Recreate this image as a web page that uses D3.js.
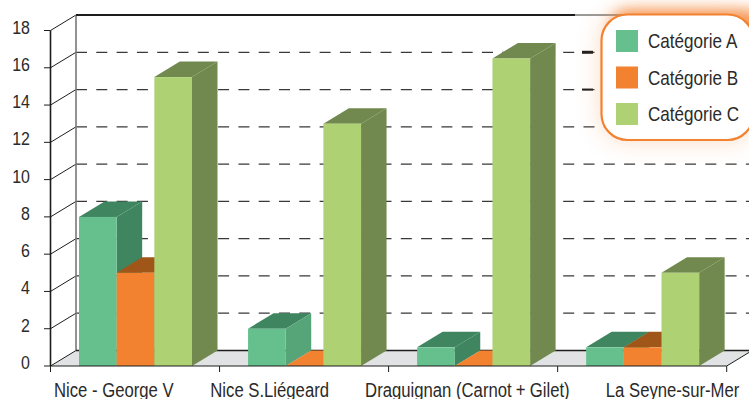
<!DOCTYPE html>
<html>
<head>
<meta charset="utf-8">
<script src="https://cdn.jsdelivr.net/npm/d3@7/dist/d3.min.js"></script>
<style>
html,body{margin:0;padding:0;background:#fff}
svg{display:block}
text{font-family:"Liberation Sans",sans-serif;fill:#2b2a29}
</style>
</head>
<body>
<svg id="chart" width="749" height="399"></svg>
<script>
const categories = ["Nice - George V", "Nice S.Liégeard", "Draguignan (Carnot+Gilet)", "La Seyne-sur-Mer"];
const seriesNames = ["Catégorie A", "Catégorie B", "Catégorie C"];
const serieA = [8, 2, 1, 1];
const serieB = [5, 0, 0, 1];
const serieC = [15.5, 13, 16.5, 5];
const yTicks = [0, 2, 4, 6, 8, 10, 12, 14, 16, 18];

const palette = [
  {face: "#65c08d", top: "#3f8560", side: "#3f8560"},
  {face: "#f38230", top: "#a05618", side: "#a05618"},
  {face: "#aed174", top: "#71894e", side: "#71894e"}
];

const W = 749, H = 399;
const depthX = 25.5, depthY = -15.5;
const svg = d3.select("#chart");
const defs = svg.append("defs");
const addBlur = (id, dev) => defs.append("filter").attr("id", id)
  .attr("x", "-40%").attr("y", "-80%").attr("width", "180%").attr("height", "260%")
  .append("feGaussianBlur").attr("stdDeviation", dev);
addBlur("glowWide", 13);
addBlur("glowTop", 7);

const x = d3.scaleBand().domain(categories).range([50.5, 726.7]);
const y = d3.scaleLinear().domain([0, 18]).range([366, 30.5]);
const inner = d3.scaleBand().domain(seriesNames).range([28.5, 141.5]);

// Floor of the 3D box
const floorPts = [[x.range()[0], y(0)], [x.range()[0] + depthX, y(0) + depthY],
  [x.range()[1] + depthX, y(0) + depthY], [x.range()[1], y(0)]];
svg.append("polygon").attr("points", floorPts.join(" ")).attr("fill", "#e1e2e4");

// Back wall gridlines and the diagonal connectors to the front axis
const x0 = x.range()[0];
const grid = svg.append("g");
grid.selectAll("line.g").data(yTicks.filter(t => t > 0 && t < 18)).join("line")
  .attr("x1", x0 + depthX).attr("x2", W)
  .attr("y1", d => y(d) + depthY).attr("y2", d => y(d) + depthY)
  .attr("stroke", "#3a3938").attr("stroke-width", 1.2).attr("stroke-dasharray", "11 9.3");
grid.selectAll("line.d").data(yTicks).join("line")
  .attr("x1", x0).attr("x2", x0 + depthX)
  .attr("y1", d => y(d)).attr("y2", d => y(d) + depthY)
  .attr("stroke", "#1d1d1b").attr("stroke-width", 1);
grid.append("line").attr("x1", x0 + depthX).attr("x2", x0 + depthX)
  .attr("y1", y(18) + depthY).attr("y2", y(0) + depthY)
  .attr("stroke", "#77787a").attr("stroke-width", 1.6);
grid.append("line").attr("x1", x0 + depthX).attr("x2", 575)
  .attr("y1", y(18) + depthY).attr("y2", y(18) + depthY)
  .attr("stroke", "#1d1d1b").attr("stroke-width", 1.8);
grid.append("line").attr("x1", 575).attr("x2", 625)
  .attr("y1", y(18) + depthY).attr("y2", y(18) + depthY)
  .attr("stroke", "#1d1d1b").attr("stroke-width", 0.9);
grid.append("line").attr("x1", x0 + depthX).attr("x2", W)
  .attr("y1", y(0) + depthY).attr("y2", y(0) + depthY)
  .attr("stroke", "#1d1d1b").attr("stroke-width", 1.4);
// Heavier last dashes where the two upper gridlines meet the legend halo
grid.selectAll("line.h").data([16, 14]).join("line")
  .attr("x1", 582).attr("x2", 593)
  .attr("y1", d => y(d) + depthY).attr("y2", d => y(d) + depthY)
  .attr("stroke", "#1d1d1b").attr("stroke-width", (d, i) => i === 0 ? 3 : 2);

// Extruded bars, one group per category
const bars = svg.append("g");
const rows = categories.map((c, i) => [serieA[i], serieB[i], serieC[i]]);
rows.forEach((vals, i) => {
  vals.forEach((v, s) => {
    const name = seriesNames[s];
    const left = x(categories[i]) + inner(name);
    const right = left + inner.bandwidth();
    const t = y(v), b = y(0);
    const col = palette[s];
    const g = bars.append("g");
    // A bar of height zero shows only its base, in the face colour
    g.append("polygon")
      .attr("points", [[left, t], [left + depthX, t + depthY], [right + depthX, t + depthY], [right, t]].join(" "))
      .attr("fill", v === 0 ? col.face : col.top);
    if (v > 0) {
      g.append("polygon")
        .attr("points", [[right, t], [right + depthX, t + depthY], [right + depthX, b + depthY], [right, b]].join(" "))
        .attr("fill", (i === 1 && s === 0) ? "#55a578" : col.side);
      g.append("rect")
        .attr("x", left).attr("y", t)
        .attr("width", inner.bandwidth()).attr("height", b - t)
        .attr("fill", col.face);
    }
  });
});

// Front axes
const axes = svg.append("g").attr("stroke", "#1d1d1b");
axes.append("line").attr("x1", x0).attr("x2", x0)
  .attr("y1", y(18)).attr("y2", y(0)).attr("stroke-width", 1.6);
axes.append("line").attr("x1", x0).attr("x2", x.range()[1])
  .attr("y1", y(0)).attr("y2", y(0)).attr("stroke-width", 1.2);
axes.append("line").attr("x1", x.range()[1]).attr("x2", x.range()[1] + depthX)
  .attr("y1", y(0)).attr("y2", y(0) + depthY).attr("stroke-width", 1);
axes.selectAll("line.yt").data(yTicks).join("line")
  .attr("x1", 44).attr("x2", x0).attr("y1", d => y(d)).attr("y2", d => y(d)).attr("stroke-width", 1);
const xEdges = categories.map(c => x(c)).concat(x.range()[1]);
axes.selectAll("line.xt").data(xEdges).join("line")
  .attr("x1", d => d).attr("x2", d => d).attr("y1", y(0)).attr("y2", 372).attr("stroke-width", 1);

// Narrow type: the sans is squeezed horizontally around each label's anchor
const narrow = 0.84;
svg.append("g").selectAll("text").data(yTicks).join("text")
  .attr("transform", d => `translate(30,${y(d) + 3}) scale(${narrow},1)`)
  .attr("text-anchor", "end").attr("font-size", 19).text(d => d);

// Category labels run left to right with a constant gap between them;
// a plus sign gets a little air on both sides
const labelScale = 0.835, labelGap = 36;
let cursor = 54;
const labels = svg.append("g");
categories.forEach(c => {
  const t = labels.append("text").attr("font-size", 20);
  const parts = c.split("+");
  parts.forEach((part, k) => {
    if (k > 0) {
      t.append("tspan").attr("dx", 5).text("+");
      t.append("tspan").attr("dx", 5).text(part);
    } else {
      t.append("tspan").text(part);
    }
  });
  const w = t.node().getBBox().width * labelScale;
  t.attr("transform", `translate(${cursor},397) scale(${labelScale},1)`);
  cursor += w + labelGap;
});

// Legend with its soft orange halo, strongest along the top edge
const lx = 601.5, ly = 14.5, lw = 152, lh = 125.5, lr = 26;
svg.append("rect").attr("x", lx).attr("y", ly).attr("width", lw).attr("height", lh)
  .attr("rx", lr).attr("fill", "#f38230").attr("opacity", 0.3).attr("filter", "url(#glowWide)");
svg.append("rect").attr("x", lx + 10).attr("y", ly - 5).attr("width", lw).attr("height", 36)
  .attr("rx", 16).attr("fill", "#f38230").attr("opacity", 0.8).attr("filter", "url(#glowTop)");
svg.append("rect").attr("x", lx).attr("y", ly).attr("width", lw).attr("height", lh)
  .attr("rx", lr).attr("fill", "#fff").attr("stroke", "#f38230").attr("stroke-width", 2.2);
const legend = svg.append("g").selectAll("g").data(seriesNames).join("g")
  .attr("transform", (d, i) => `translate(616,${30 + i * 36.5})`);
legend.append("rect").attr("width", 22).attr("height", 22).attr("fill", (d, i) => palette[i].face);
legend.append("text").attr("transform", "translate(32,18) scale(0.855,1)").attr("font-size", 20).text(d => d);
</script>
</body>
</html>
